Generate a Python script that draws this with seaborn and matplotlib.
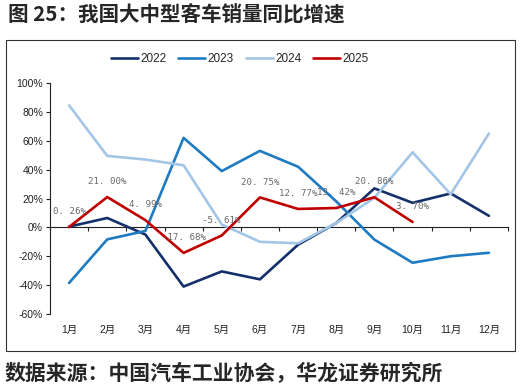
import numpy as np
import pandas as pd
import seaborn as sns
import matplotlib.pyplot as plt
from matplotlib.patches import Rectangle

months = ["1月", "2月", "3月", "4月", "5月", "6月", "7月", "8月", "9月", "10月", "11月", "12月"]
y2022 = [0.5, 6.5, -5.0, -41.0, -30.5, -36.0, -12.0, 3.0, 27.0, 17.0, 23.5, 8.0]
y2023 = [-38.5, -8.3, -2.5, 62.0, 39.0, 53.0, 42.0, 18.0, -8.5, -24.5, -20.0, -17.6]
y2024 = [84.5, 49.5, 47.0, 43.0, 2.0, -10.0, -11.0, 3.0, 20.5, 52.0, 23.0, 65.0]
y2025 = [0.26, 21.00, 4.99, -17.68, -5.61, 20.75, 12.77, 13.42, 20.86, 3.70]

colors = {"2022": "#14306b", "2023": "#1f7bc1", "2024": "#a3c6e6", "2025": "#c00000"}

rows = []
for year, vals in [("2022", y2022), ("2023", y2023), ("2024", y2024), ("2025", y2025)]:
    for i, v in enumerate(vals):
        rows.append({"month": i, "value": v, "year": year})
df = pd.DataFrame(rows)

sns.set_theme(style="white")
plt.rcParams['font.family'] = ['Liberation Sans', 'Noto Sans CJK SC']

fig = plt.figure(figsize=(5.21, 3.91), dpi=100)
ax = fig.add_axes([50 / 521, 1 - 314 / 391, 458 / 521, 231 / 391])

sns.lineplot(data=df, x="month", y="value", hue="year", palette=colors,
             linewidth=1.9, ax=ax, legend=False)

# data labels for 2025
for i, v in enumerate(y2025):
    ax.annotate(f"{v:.2f}%".replace(".", ". "), (i, v), xytext=(0, 11), textcoords="offset points",
                ha="center", va="center", fontsize=6.6, color="#6a6a6a",
                family=['DejaVu Sans Mono'])

ax.set_xlim(-0.5, 11.5)
ax.set_ylim(-60, 100)
ax.set_yticks(np.arange(-60, 101, 20))
ax.set_yticklabels([f"{t}%" for t in range(-60, 101, 20)])
ax.set_xticks(range(12))
ax.set_xticklabels(months)
ax.set_xlabel("")
ax.set_ylabel("")
ax.tick_params(axis="x", length=0, labelsize=7.5, pad=8, colors="#222222")
ax.tick_params(axis="y", length=3, width=0.8, direction="out", labelsize=7.5, pad=2,
               colors="#222222", left=True)
for s in ["top", "right", "bottom"]:
    ax.spines[s].set_visible(False)
ax.spines["left"].set_color("#222222")
ax.spines["left"].set_linewidth(0.8)

# zero axis with category boundary ticks
zero = ax.secondary_xaxis(60 / 160)
zero.set_xticks(np.arange(-0.5, 12, 1))
zero.tick_params(direction="out", length=3, width=0.8, labelbottom=False, labeltop=False,
                 bottom=True, top=False, colors="#222222")
zero.spines["bottom"].set_color("#222222")
zero.spines["bottom"].set_linewidth(0.8)
zero.xaxis.set_ticks_position("bottom")
zero.set_xticklabels([])

# legend
handles = [plt.Line2D([], [], color=colors[y], linewidth=1.9) for y in colors]
fig.legend(handles, list(colors), loc="center", bbox_to_anchor=(240 / 521, 1 - 59 / 391),
           ncol=4, frameon=False, fontsize=8.5, handlelength=2.3, handletextpad=0.2,
           columnspacing=1.0)

# frame and texts
fig.patches.append(Rectangle((5.5 / 521, 1 - 350.5 / 391), 509.5 / 521, 311 / 391,
                             transform=fig.transFigure, fill=False, edgecolor="#333333",
                             linewidth=0.8))
fig.text(8 / 521, 1 - 15 / 391, "图 25：我国大中型客车销量同比增速", fontsize=14.8,
         fontweight="bold", va="center", ha="left", family=['Noto Sans CJK SC'])
fig.text(5 / 521, 1 - 373 / 391, "数据来源：中国汽车工业协会，华龙证券研究所", fontsize=15,
         fontweight="bold", va="center", ha="left", family=['Noto Sans CJK SC'])

plt.savefig("out.png", dpi=100)
